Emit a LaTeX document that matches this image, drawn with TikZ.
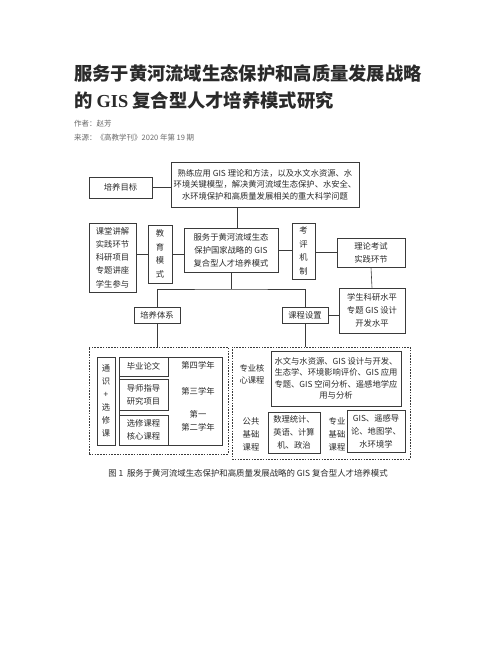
\documentclass[tikz,border=0pt]{standalone}
\usepackage{fontspec}
\newfontfamily\cjk{Noto Sans CJK SC}
\newfontfamily\lserif{Liberation Serif}
\usetikzlibrary{positioning}

\definecolor{linec}{HTML}{3A3A3A}
\definecolor{textc}{HTML}{2A2A2A}
\definecolor{metac}{HTML}{6A6A6A}

\tikzset{
  box/.style={draw=linec, line width=0.6pt, inner sep=0pt, align=center,
    text=textc, font=\cjk\fontsize{8.3}{11.5}\selectfont},
  label/.style={inner sep=0pt, align=center, text=textc,
    font=\cjk\fontsize{8.3}{12.5}\selectfont},
  dashbox/.style={draw=linec, line width=0.6pt, dash pattern=on 1.6pt off 1.2pt,
    inner sep=0pt},
  link/.style={draw=linec, line width=0.6pt},
}

\begin{document}
\begin{tikzpicture}[x=1pt,y=-1pt]
\useasboundingbox[fill=white] (0,0) rectangle (502,649);

% title and source
\node[anchor=west, inner sep=0pt, text=textc, font=\cjk\bfseries\fontsize{18.3}{22}\selectfont]
  (title1) at (74,73) {服务于黄河流域生态保护和高质量发展战略};
\node[anchor=west, inner sep=0pt, text=textc, font=\cjk\bfseries\fontsize{18.3}{22}\selectfont]
  (title2) at (74,101) {的 {\lserif\bfseries GIS} 复合型人才培养模式研究};
\node[anchor=west, inner sep=0pt, text=metac, font=\cjk\fontsize{7.5}{9}\selectfont]
  (author) at (74,124) {作者：赵芳};
\node[anchor=west, inner sep=0pt, text=metac, font=\cjk\fontsize{7.5}{9}\selectfont]
  (source) at (74,138) {来源：《高教学刊》2020 年第 19 期};

% upper part
\node[box, minimum width=63, minimum height=21] (goal) at (120.5,187.5) {培养目标};
\node[box, minimum width=188, minimum height=45] (aim) at (265,184.5)
  {熟练应用 GIS 理论和方法，以及水文水资源、水\\环境关键模型，解决黄河流域生态保护、水安全、\\水环境保护和高质量发展相关的重大科学问题};
\node[box, minimum width=47, minimum height=69, font=\cjk\fontsize{8.3}{13.2}\selectfont]
  (teach) at (112.5,257.5) {课堂讲解\\实践环节\\科研项目\\专题讲座\\学生参与};
\node[box, minimum width=24, minimum height=58, font=\cjk\fontsize{8.3}{13.5}\selectfont]
  (mode) at (160,254) {教\\育\\模\\式};
\node[box, minimum width=94, minimum height=44, font=\cjk\fontsize{8.3}{13}\selectfont]
  (core) at (231,250) {服务于黄河流域生态\\保护国家战略的 GIS\\复合型人才培养模式};
\node[box, minimum width=23, minimum height=56, font=\cjk\fontsize{8.3}{13.5}\selectfont]
  (eval) at (303.5,251) {考\\评\\机\\制};
\node[box, minimum width=68, minimum height=29, font=\cjk\fontsize{8.3}{13}\selectfont]
  (exam) at (371,252.5) {理论考试\\实践环节};
\node[box, minimum width=66, minimum height=45, font=\cjk\fontsize{8.3}{13}\selectfont]
  (level) at (372,310.5) {学生科研水平\\专题 GIS 设计\\开发水平};
\node[box, minimum width=46, minimum height=16] (system) at (157,315) {培养体系};
\node[box, minimum width=46, minimum height=16] (course) at (305,315) {课程设置};
\coordinate (split) at (231,289);

\draw[link] (goal.east) -- (goal.east -| aim.west);
\draw[link] ([xshift=6pt]core.north) -- ([xshift=6pt]core.north |- aim.south);
\draw[link] (mode.west) -- (mode.west -| teach.east);
\draw[link] (mode.east) -- (mode.east -| core.west);
\draw[link] (core.east) -- (core.east -| eval.west);
\draw[link] (exam.west) -- (exam.west -| eval.east);
\draw[link] (exam.south) -- (level.north);
\draw[link] (course.east) -- (course.east -| level.west);
\draw[link] (core.south) -- (split);
\draw[link] (system.north) |- (split) -| (course.north);

% training system
\node[dashbox, minimum width=139, minimum height=107] (left) at (158.5,400.5) {};
\node[box, minimum width=18, minimum height=88, font=\cjk\fontsize{8.3}{13}\selectfont]
  (general) at (106,401) {通\\识\\+\\选\\修\\课};
\node[box, minimum width=103, minimum height=88] (years) at (170.5,401) {};
\node[box, minimum width=49, minimum height=19] (thesis) at (143.5,366.5) {毕业论文};
\node[box, minimum width=49, minimum height=31, font=\cjk\fontsize{8.3}{13}\selectfont]
  (tutor) at (143.5,394.5) {导师指导\\研究项目};
\node[box, minimum width=49, minimum height=30, font=\cjk\fontsize{8.3}{13}\selectfont]
  (elect) at (143.5,430) {选修课程\\核心课程};
\node[label] (year4) at (198,365) {第四学年};
\node[label] (year3) at (198,391) {第三学年};
\node[label] (year12) at (198,421) {第一\\第二学年};

% course settings
\node[dashbox, minimum width=178, minimum height=112] (right) at (321,403) {};
\node[label] (corel) at (252,374.5) {专业核\\心课程};
\node[box, minimum width=130, minimum height=55] (corec) at (336,378.5)
  {水文与水资源、GIS 设计与开发、\\生态学、环境影响评价、GIS 应用\\专题、GIS 空间分析、遥感地学应\\用与分析};
\node[label, font=\cjk\fontsize{8.3}{13}\selectfont] (publ) at (251,434) {公共\\基础\\课程};
\node[box, minimum width=52, minimum height=41, font=\cjk\fontsize{8.3}{13}\selectfont]
  (pub) at (294,432.5) {数理统计、\\英语、计算\\机、政治};
\node[label, font=\cjk\fontsize{8.3}{13}\selectfont] (basel) at (337,434) {专业\\基础\\课程};
\node[box, minimum width=58, minimum height=42, font=\cjk\fontsize{8.3}{13}\selectfont]
  (base) at (376,431) {GIS、遥感导\\论、地图学、\\水环境学};

\draw[link] (system.south) -- (system.south |- left.north);
\draw[link] (course.south) -- (course.south |- right.north);

\node[inner sep=0pt, text=textc, font=\cjk\fontsize{8.4}{10}\selectfont]
  (caption) at (248,473) {图 1\ \ 服务于黄河流域生态保护和高质量发展战略的 GIS 复合型人才培养模式};
\end{tikzpicture}
\end{document}
